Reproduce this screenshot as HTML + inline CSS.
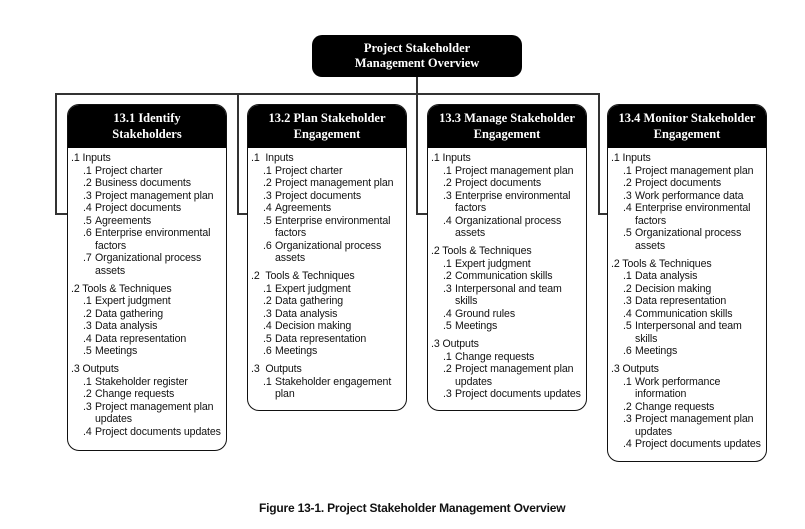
<!DOCTYPE html>
<html><head><meta charset="utf-8">
<style>
body{margin:0;width:805px;height:529px;background:#fff;position:relative;overflow:hidden;font-family:"Liberation Sans",sans-serif;}
.ln{position:absolute;background:#333;}
.top{position:absolute;left:312px;top:35px;width:210px;height:42px;background:#000;border-radius:10px;color:#fff;font:bold 12.5px/15px "Liberation Serif",serif;text-align:center;padding-top:6px;box-sizing:border-box;}
.box{position:absolute;width:160px;border:1.5px solid #111;border-radius:12px;background:#fff;box-sizing:border-box;overflow:hidden;}
.hd{background:#000;color:#fff;height:43px;font:bold 12.5px/15.5px "Liberation Serif",serif;text-align:center;padding-top:6px;box-sizing:border-box;}
.ct{padding:4px 0 0 0;font-size:10.6px;line-height:12.5px;color:#111;letter-spacing:-0.1px;}
.s{padding-left:3px;margin-top:5.5px;}
.s:first-child{margin-top:0}
.s>div{position:relative;padding-left:24px;}
.s>div>b{position:absolute;left:12px;font-weight:normal;}
.s>p{margin:0;}
.cap{position:absolute;left:259px;top:501px;font-weight:bold;font-size:12px;letter-spacing:-0.2px;color:#111;}
</style></head><body>
<div class="top">Project Stakeholder<br>Management Overview</div>
<div class="ln" style="left:416px;top:77px;width:1.5px;height:137px"></div>
<div class="ln" style="left:55px;top:93px;width:544px;height:1.5px"></div>
<div class="ln" style="left:55px;top:93px;width:1.5px;height:121px"></div>
<div class="ln" style="left:55px;top:213px;width:13px;height:1.5px"></div>
<div class="ln" style="left:237px;top:93px;width:1.5px;height:121px"></div>
<div class="ln" style="left:237px;top:213px;width:11px;height:1.5px"></div>
<div class="ln" style="left:416px;top:213px;width:12px;height:1.5px"></div>
<div class="ln" style="left:598px;top:93px;width:1.5px;height:121px"></div>
<div class="ln" style="left:598px;top:213px;width:10px;height:1.5px"></div>

<div class="box" style="left:67px;top:104px;height:347px">
<div class="hd">13.1 Identify<br>Stakeholders</div>
<div class="ct">
<div class="s"><p>.1 Inputs</p>
<div><b>.1</b>Project charter</div>
<div><b>.2</b>Business documents</div>
<div><b>.3</b>Project management plan</div>
<div><b>.4</b>Project documents</div>
<div><b>.5</b>Agreements</div>
<div><b>.6</b>Enterprise environmental<br>factors</div>
<div><b>.7</b>Organizational process<br>assets</div></div>
<div class="s"><p>.2 Tools &amp; Techniques</p>
<div><b>.1</b>Expert judgment</div>
<div><b>.2</b>Data gathering</div>
<div><b>.3</b>Data analysis</div>
<div><b>.4</b>Data representation</div>
<div><b>.5</b>Meetings</div></div>
<div class="s"><p>.3 Outputs</p>
<div><b>.1</b>Stakeholder register</div>
<div><b>.2</b>Change requests</div>
<div><b>.3</b>Project management plan<br>updates</div>
<div><b>.4</b>Project documents updates</div></div>
</div></div>

<div class="box" style="left:247px;top:104px;height:307px">
<div class="hd">13.2 Plan Stakeholder<br>Engagement</div>
<div class="ct">
<div class="s"><p>.1 &nbsp;Inputs</p>
<div><b>.1</b>Project charter</div>
<div><b>.2</b>Project management plan</div>
<div><b>.3</b>Project documents</div>
<div><b>.4</b>Agreements</div>
<div><b>.5</b>Enterprise environmental<br>factors</div>
<div><b>.6</b>Organizational process<br>assets</div></div>
<div class="s"><p>.2 &nbsp;Tools &amp; Techniques</p>
<div><b>.1</b>Expert judgment</div>
<div><b>.2</b>Data gathering</div>
<div><b>.3</b>Data analysis</div>
<div><b>.4</b>Decision making</div>
<div><b>.5</b>Data representation</div>
<div><b>.6</b>Meetings</div></div>
<div class="s"><p>.3 &nbsp;Outputs</p>
<div><b>.1</b>Stakeholder engagement<br>plan</div></div>
</div></div>

<div class="box" style="left:427px;top:104px;height:307px">
<div class="hd">13.3 Manage Stakeholder<br>Engagement</div>
<div class="ct">
<div class="s"><p>.1 Inputs</p>
<div><b>.1</b>Project management plan</div>
<div><b>.2</b>Project documents</div>
<div><b>.3</b>Enterprise environmental<br>factors</div>
<div><b>.4</b>Organizational process<br>assets</div></div>
<div class="s"><p>.2 Tools &amp; Techniques</p>
<div><b>.1</b>Expert judgment</div>
<div><b>.2</b>Communication skills</div>
<div><b>.3</b>Interpersonal and team<br>skills</div>
<div><b>.4</b>Ground rules</div>
<div><b>.5</b>Meetings</div></div>
<div class="s"><p>.3 Outputs</p>
<div><b>.1</b>Change requests</div>
<div><b>.2</b>Project management plan<br>updates</div>
<div><b>.3</b>Project documents updates</div></div>
</div></div>

<div class="box" style="left:607px;top:104px;height:358px">
<div class="hd">13.4 Monitor Stakeholder<br>Engagement</div>
<div class="ct">
<div class="s"><p>.1 Inputs</p>
<div><b>.1</b>Project management plan</div>
<div><b>.2</b>Project documents</div>
<div><b>.3</b>Work performance data</div>
<div><b>.4</b>Enterprise environmental<br>factors</div>
<div><b>.5</b>Organizational process<br>assets</div></div>
<div class="s"><p>.2 Tools &amp; Techniques</p>
<div><b>.1</b>Data analysis</div>
<div><b>.2</b>Decision making</div>
<div><b>.3</b>Data representation</div>
<div><b>.4</b>Communication skills</div>
<div><b>.5</b>Interpersonal and team<br>skills</div>
<div><b>.6</b>Meetings</div></div>
<div class="s"><p>.3 Outputs</p>
<div><b>.1</b>Work performance<br>information</div>
<div><b>.2</b>Change requests</div>
<div><b>.3</b>Project management plan<br>updates</div>
<div><b>.4</b>Project documents updates</div></div>
</div></div>

<div class="cap">Figure 13-1. Project Stakeholder Management Overview</div>
</body></html>
